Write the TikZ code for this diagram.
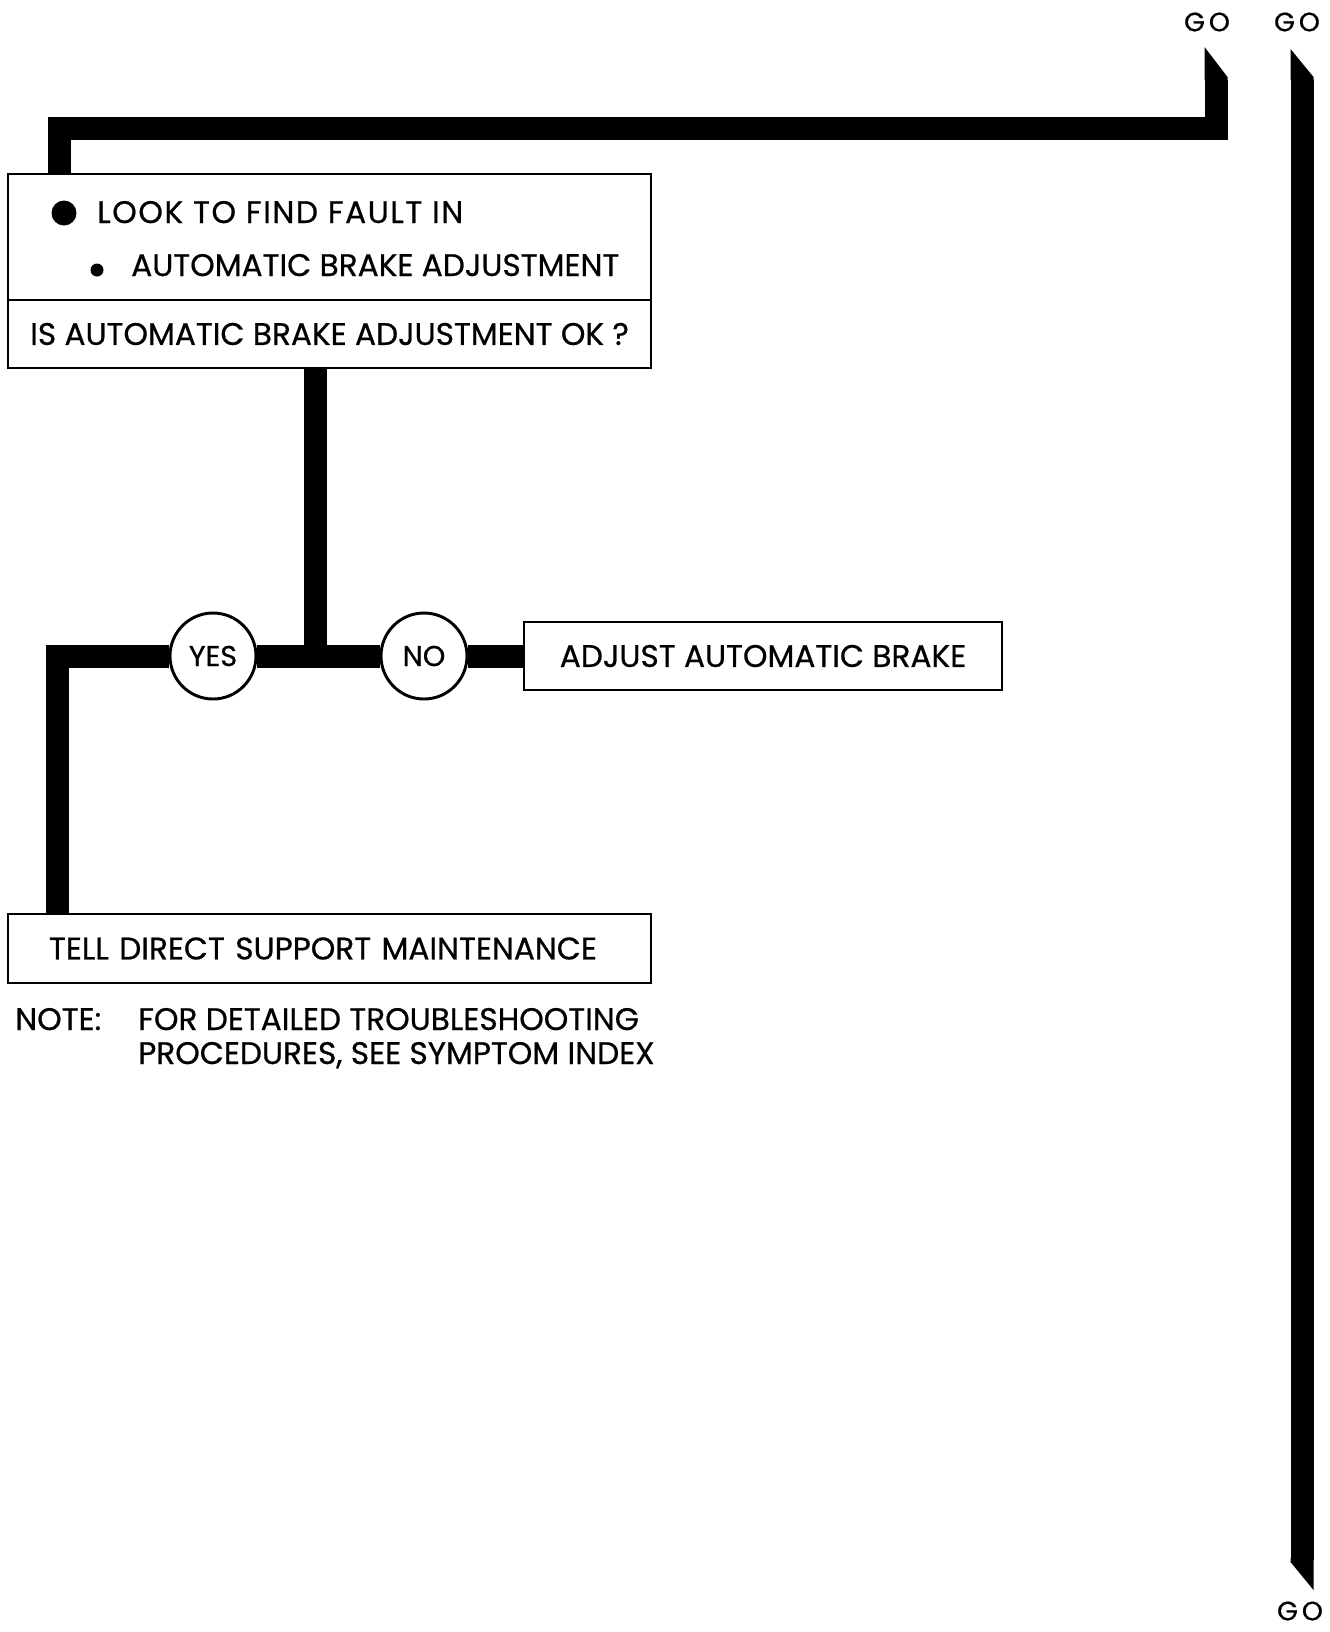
\documentclass[tikz,border=0pt]{standalone}
\usepackage{fontspec}
\setmainfont{Poppins}[FakeBold=0.6]
\usetikzlibrary{positioning}

\begin{document}
\begin{tikzpicture}[x=0.75pt, y=-0.75pt,
    box/.style={draw, line width=2.2pt, inner sep=0pt, outer sep=0pt,
        minimum width=482.25pt, minimum height=51pt},
    txt/.style={inner sep=0pt, font=\fontsize{23.4}{28}\selectfont},
    dot/.style={circle, fill, inner sep=0pt},
    choice/.style={circle, draw, line width=2.2pt, fill=white, inner sep=0pt,
        minimum size=64.5pt, font=\fontsize{21.5}{26}\selectfont},
    golabel/.style={inner sep=0pt, font=\fontsize{20}{24}\selectfont\addfontfeature{LetterSpace=15}},
    pipe/.style={line width=17.25pt, line join=miter}]
    \useasboundingbox (0,0) rectangle (1329,1632);

    % off-page labels
    \node[golabel] (goA) at (1207,22) {GO};
    \node[golabel] (goB) at (1297,22) {GO};
    \node[golabel] (goC) at (1300,1611) {GO};

    % fault box
    \node[box, minimum height=94.5pt] (fault) at (329.5,237) {};
    \node[dot, minimum size=18.75pt] (bigdot) at (64,213) {};
    \node[txt, anchor=base west] (look) at (97,223) {\addfontfeature{LetterSpace=5}LOOK TO FIND FAULT IN};
    \node[dot, minimum size=9.75pt] (smalldot) at (97,270) {};
    \node[txt, anchor=base west] (item) at (131,276) {AUTOMATIC BRAKE ADJUSTMENT};
    \node[box, txt, below=0pt of fault] (check) {IS AUTOMATIC BRAKE ADJUSTMENT OK ?};

    % answers
    \node[choice] (yes) at (213,656) {YES};
    \node[choice] (no) at (424,656) {NO};
    \node[box, txt, minimum width=358.5pt] (adjust) at (763,656) {ADJUST AUTOMATIC BRAKE};
    \node[box, txt, minimum height=51.75pt, inner xsep=30.75pt, text width=420.75pt, align=left]
        (tell) at (329.5,948.5) {TELL DIRECT SUPPORT MAINTENANCE};

    % note
    \node[txt, anchor=base west] (note) at (15,1030) {NOTE:};
    \node[txt, anchor=base west] (notea) at (138,1030) {FOR DETAILED TROUBLESHOOTING};
    \node[txt, anchor=base west] (noteb) at (138,1064) {PROCEDURES, SEE SYMPTOM INDEX};

    % connectors
    \coordinate (bend) at (1216,128);
    \coordinate (topend) at (1216,80);
    \draw[pipe] ([xshift=38.25pt]fault.north west) |- (bend) -- (topend);
    \fill (1204.5,80) -- (1204.5,47) -- (1227.5,77) -- (1227.5,80) -- cycle;
    \coordinate (split) at (315,656);
    \draw[pipe] ([xshift=230.25pt]check.south west) -- (split);
    \draw[pipe] (yes) -- (no);
    \draw[pipe] (no) -- (adjust);
    \draw[pipe] (yes) -| ([xshift=37.125pt]tell.north west);

    % through line
    \coordinate (trunktop) at (1302,80);
    \coordinate (trunkbot) at (1302,1560);
    \draw[pipe] (trunktop) -- (trunkbot);
    \fill (1290.5,80) -- (1290.5,49) -- (1313.5,77) -- (1313.5,80) -- cycle;
    \fill (1290.5,1558) -- (1290.5,1562) -- (1313.5,1590) -- (1313.5,1558) -- cycle;
\end{tikzpicture}
\end{document}
